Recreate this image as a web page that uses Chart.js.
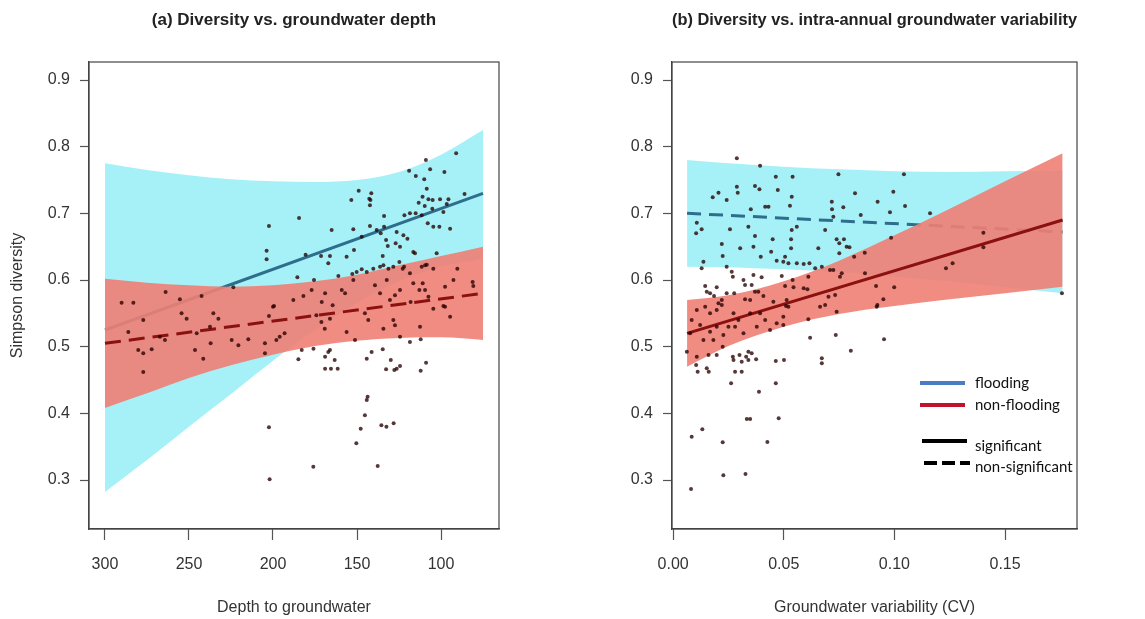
<!DOCTYPE html>
<html>
<head>
  <title>Diversity vs groundwater</title>
  <script src="https://cdn.jsdelivr.net/npm/chart.js"></script>
  <style>
    body { margin: 0; background: #fff; }
    #wrap { position: relative; width: 1145px; height: 619px; }
    canvas { position: absolute; top: 0; }
    #chartA { left: 0; }
    #chartB { left: 572px; }
  </style>
</head>
<body>
<div id="wrap">
  <canvas id="chartA" width="572" height="619"></canvas>
  <canvas id="chartB" width="573" height="619"></canvas>
</div>

<script>
// ---- panel (a): depth to groundwater ----
const xTicksA = [300, 250, 200, 150, 100];
const yTicks = [0.3, 0.4, 0.5, 0.6, 0.7, 0.8, 0.9];

const bandXA  = [300, 275, 250, 225, 200, 175, 150, 125, 100, 75];
const cyanUpA = [0.775, 0.765, 0.757, 0.751, 0.748, 0.747, 0.750, 0.762, 0.788, 0.825];
const cyanLoA = [0.282, 0.330, 0.380, 0.429, 0.479, 0.525, 0.566, 0.598, 0.620, 0.631];
const redUpA  = [0.602, 0.596, 0.592, 0.590, 0.592, 0.598, 0.608, 0.622, 0.636, 0.650];
const redLoA  = [0.408, 0.430, 0.453, 0.472, 0.488, 0.501, 0.509, 0.513, 0.514, 0.510];

const fitXA = [300, 75];
const blueFitA = [0.525, 0.730];
const redFitA = [0.505, 0.580];

// [depth, simpson diversity]
const pointsA = [
  [91,0.79],[109,0.78],[106.5,0.766],[98,0.762],[119,0.764],[115,0.756],[149,0.734],[141.5,0.73],
  [142.7,0.722],[142,0.72],[142.3,0.712],[153.4,0.72],[110,0.751],[108.5,0.737],[86,0.729],[111,0.725],
  [107.5,0.721],[105,0.72],[100.6,0.721],[95.6,0.721],[113.3,0.716],[109.7,0.711],[105.2,0.707],[96.6,0.714],
  [118.5,0.70],[121.8,0.697],[115.1,0.70],[111.5,0.697],[107.9,0.685],[104.6,0.68],[101,0.68],[98.6,0.702],
  [94.6,0.677],[133.9,0.696],[133.9,0.68],[138.3,0.675],[135.9,0.67],[132.7,0.66],[131.7,0.651],[126.4,0.672],
  [122.4,0.667],[120,0.662],[124.4,0.65],[127,0.655],[142.3,0.681],[152.2,0.676],[165.1,0.675],[151.8,0.645],
  [147.2,0.665],[202.4,0.681],[184.5,0.693],[203.8,0.644],[203.8,0.631],[180.6,0.638],[171.4,0.636],[166.1,0.636],
  [167.1,0.625],[156.2,0.635],[134.7,0.636],[134.3,0.622],[116.5,0.642],[115.5,0.64],[109.5,0.622],[102.6,0.64],
  [124.8,0.627],[122,0.62],[185.5,0.604],[175.6,0.60],[161.1,0.606],[152.8,0.609],[150.2,0.612],[147.2,0.616],
  [144.2,0.612],[140.3,0.617],[136.3,0.62],[131.3,0.617],[128.4,0.62],[122.8,0.617],[118.5,0.61],[111.5,0.62],
  [108.5,0.623],
  [290.1,0.566],[283.1,0.566],[263.9,0.582],[255.4,0.571],[242.5,0.576],[223.6,0.589],[199.4,0.561],[187.9,0.57],
  [181.9,0.576],[177,0.585],[171,0.567],[169,0.58],[164.5,0.562],[159.1,0.585],[157.1,0.58],[152.2,0.60],
  [139.3,0.592],[136.3,0.58],[132.3,0.60],[130.4,0.57],[127.4,0.577],[124.4,0.585],[116.5,0.595],[110.9,0.595],
  [109.5,0.585],[104.6,0.617],[107.5,0.575],[97.6,0.59],[92.6,0.60],[90.3,0.617],[81.2,0.597],[80.8,0.591],
  [98.6,0.561],[118.1,0.567],[112.9,0.585],
  [277.2,0.54],[286.1,0.522],[280.2,0.495],[277.2,0.49],[277.2,0.462],[272.2,0.496],[267.3,0.515],[264.3,0.51],
  [254.4,0.55],[251.4,0.542],[246.4,0.495],[241.5,0.482],[245.4,0.52],[237.5,0.53],[235.5,0.55],[232.5,0.542],
  [237.1,0.505],[224.6,0.51],[220.6,0.502],[214.7,0.511],[204.8,0.505],[204.8,0.49],[202.4,0.546],[200,0.56],
  [198,0.51],[193.1,0.52],[196,0.515],[174.2,0.547],[171.2,0.537],[169.2,0.527],[166.1,0.542],[156.2,0.522],
  [145.3,0.55],[143.3,0.54],[134.3,0.527],[128.4,0.54],[127.4,0.532],[124.4,0.515],[118.5,0.507],[112.5,0.53],
  [112.1,0.511],[104.6,0.557],[97.6,0.56],[94.6,0.545],[151.2,0.51],
  [184.9,0.481],[182.9,0.495],[175.9,0.497],[169,0.485],[167.1,0.492],[166.1,0.495],[169,0.467],[165.5,0.467],
  [163.3,0.48],[161.5,0.467],[144.2,0.482],[141.3,0.492],[134.7,0.496],[132.7,0.466],[129.9,0.48],[127.8,0.465],
  [126.4,0.467],[124.4,0.471],[112.1,0.464],[108.9,0.476],[144.2,0.42],[143.7,0.425],[145.3,0.397],[147.8,0.377],
  [135.5,0.382],[132.5,0.38],[128.2,0.385],[150.4,0.355],[202.4,0.379],[202,0.301],[176,0.32],[137.7,0.321]
];

// ---- panel (b): groundwater variability ----
const xTicksB = [0.00, 0.05, 0.10, 0.15];

const bandXB  = [0.0063, 0.025, 0.05, 0.075, 0.1, 0.125, 0.15, 0.176];
const cyanUpB = [0.780, 0.775, 0.770, 0.766, 0.763, 0.762, 0.763, 0.764];
const cyanLoB = [0.620, 0.619, 0.616, 0.612, 0.605, 0.598, 0.589, 0.580];
const redUpB  = [0.570, 0.577, 0.598, 0.629, 0.667, 0.707, 0.748, 0.790];
const redLoB  = [0.470, 0.501, 0.530, 0.549, 0.561, 0.571, 0.580, 0.590];

const fitXB = [0.0063, 0.176];
const blueFitB = [0.700, 0.672];
const redFitB = [0.520, 0.690];

// [CV, simpson diversity]
const pointsB = [
  [0.0288,0.7825],[0.0393,0.7715],[0.0464,0.755],[0.0540,0.755],[0.0747,0.7585],[0.1043,0.7585],[0.0370,0.741],[0.0390,0.736],
  [0.0288,0.74],[0.0292,0.731],[0.0205,0.731],[0.0179,0.724],[0.0242,0.72],[0.0473,0.735],[0.0536,0.725],[0.0416,0.71],
  [0.0431,0.71],[0.0351,0.706],[0.0528,0.7115],[0.0717,0.7175],[0.0718,0.706],[0.0769,0.709],[0.0822,0.73],[0.0924,0.7175],
  [0.0995,0.7325],[0.0980,0.7015],[0.1048,0.711],[0.0848,0.6975],[0.1161,0.70],[0.0107,0.686],[0.0104,0.67],[0.0129,0.676],
  [0.0257,0.676],[0.0340,0.68],[0.0536,0.675],[0.0559,0.68],[0.0724,0.695],[0.0687,0.675],[0.0303,0.6475],[0.0363,0.65],
  [0.0370,0.666],[0.0450,0.661],[0.0533,0.661],[0.0656,0.6475],[0.0739,0.661],[0.0751,0.655],[0.0772,0.661],[0.0784,0.65],
  [0.0533,0.6475],[0.0443,0.6425],[0.0396,0.635],[0.0220,0.654],[0.0224,0.636],[0.0242,0.62],[0.0265,0.6125],[0.0270,0.605],
  [0.0137,0.6275],[0.0129,0.6175],[0.0506,0.635],[0.0521,0.625],[0.0498,0.6275],[0.0468,0.629],[0.0559,0.625],[0.0590,0.624],
  [0.0616,0.625],[0.0751,0.64],[0.0797,0.649],[0.0818,0.635],[0.0866,0.641],[0.0985,0.6635],[0.1402,0.671],[0.1402,0.649],
  [0.1233,0.6175],[0.1263,0.625],[0.1757,0.58],
  [0.0145,0.591],[0.0152,0.5825],[0.0167,0.58],[0.0185,0.576],[0.0197,0.589],[0.0220,0.57],[0.0205,0.565],[0.0242,0.58],
  [0.0276,0.58],[0.0318,0.60],[0.0325,0.5925],[0.0355,0.5925],[0.0370,0.5825],[0.0325,0.571],[0.0348,0.57],[0.0385,0.5825],
  [0.0408,0.576],[0.0363,0.6075],[0.0400,0.604],[0.0491,0.606],[0.0506,0.591],[0.0540,0.60],[0.0544,0.589],[0.0590,0.5875],
  [0.0607,0.586],[0.0611,0.605],[0.0642,0.6175],[0.0672,0.62],[0.0709,0.615],[0.0724,0.615],[0.0754,0.605],[0.0762,0.61],
  [0.0867,0.61],[0.0917,0.591],[0.0999,0.589],[0.0950,0.571],[0.0923,0.5625],[0.0702,0.575],[0.0732,0.5775],[0.0687,0.5625],
  [0.0510,0.561],[0.0453,0.5675],[0.0513,0.57],
  [0.0062,0.4925],[0.0077,0.52],[0.0084,0.54],[0.0107,0.555],[0.0145,0.56],[0.0167,0.55],[0.0197,0.555],[0.0220,0.5625],
  [0.0122,0.5325],[0.0137,0.51],[0.0167,0.5225],[0.0182,0.51],[0.0197,0.53],[0.0227,0.5175],[0.0250,0.53],[0.0273,0.55],
  [0.0280,0.53],[0.0295,0.54],[0.0318,0.52],[0.0348,0.55],[0.0378,0.53],[0.0393,0.55],[0.0416,0.54],[0.0438,0.525],
  [0.0468,0.535],[0.0498,0.545],[0.0498,0.5325],[0.0521,0.56],[0.0611,0.541],[0.0664,0.56],[0.0739,0.5525],[0.0920,0.56],
  [0.0107,0.485],[0.0160,0.4875],[0.0197,0.4875],[0.0224,0.50],[0.0104,0.4725],[0.0111,0.4625],[0.0152,0.4675],[0.0161,0.4625],
  [0.0270,0.485],[0.0273,0.48],[0.0300,0.4875],[0.0310,0.4775],[0.0330,0.485],[0.0340,0.4925],[0.0355,0.49],[0.0375,0.481],
  [0.0340,0.48],[0.0280,0.4625],[0.0310,0.4625],[0.0262,0.445],[0.0388,0.4325],[0.0464,0.445],[0.0464,0.4785],[0.0501,0.48],
  [0.0619,0.5135],[0.0672,0.4825],[0.0672,0.475],[0.0735,0.5175],[0.0803,0.494],[0.0953,0.511],[0.0084,0.365],[0.0132,0.376],
  [0.0224,0.3565],[0.0333,0.3915],[0.0348,0.3915],[0.0477,0.3925],[0.0426,0.357],[0.0227,0.307],[0.0327,0.309],[0.0081,0.2865]
];

const legendLabels = ['flooding', 'non-flooding', 'significant', 'non-significant'];

// ---- colours ----
const cyanFill = 'rgba(30, 220, 235, 0.4)';
const redFill = 'rgba(240, 128, 116, 0.9)';
const blueLine = '#2e6e8c';
const redLine = '#8b1111';
const dotColor = 'rgba(40, 0, 0, 0.78)';

Chart.defaults.font.family = "'Liberation Sans', Arial, sans-serif";
Chart.defaults.color = '#333';

function xy(xs, ys) { return xs.map((x, i) => ({x: x, y: ys[i]})); }

function band(xs, up, lo, color, order) {
  return [
    {type: 'line', data: xy(xs, up), fill: '+1', backgroundColor: color, borderColor: 'transparent',
     borderWidth: 0, pointRadius: 0, cubicInterpolationMode: 'monotone', order: order},
    {type: 'line', data: xy(xs, lo), fill: false, borderColor: 'transparent',
     borderWidth: 0, pointRadius: 0, cubicInterpolationMode: 'monotone', order: order}
  ];
}

function fitLine(xs, ys, color, dash, order) {
  return {type: 'line', data: xy(xs, ys), borderColor: color, borderWidth: 3, borderDash: dash,
          pointRadius: 0, fill: false, order: order};
}

function dots(pts) {
  return {type: 'scatter', data: pts.map(p => ({x: p[0], y: p[1]})), pointRadius: 2,
          pointBackgroundColor: dotColor, pointBorderWidth: 0, order: 0};
}

// box around plot region
const frame = {
  id: 'frame',
  afterDraw(chart) {
    const {ctx, chartArea: a} = chart;
    ctx.save();
    ctx.strokeStyle = '#444';
    ctx.lineWidth = 1.2;
    ctx.strokeRect(a.left, a.top, a.right - a.left, a.bottom - a.top);
    ctx.restore();
  }
};

// legend drawn inside panel (b)
const legendB = {
  id: 'legendB',
  afterDraw(chart) {
    const ctx = chart.ctx;
    const items = [
      {color: '#4a7ec4', dash: [], x0: 348, x1: 393, y: 383, ty: 383},
      {color: '#c0142c', dash: [], x0: 348, x1: 393, y: 405, ty: 405},
      {color: '#000', dash: [], x0: 350, x1: 395, y: 441, ty: 446},
      {color: '#000', dash: [13, 5], x0: 352, x1: 398, y: 463, ty: 467}
    ];
    ctx.save();
    items.forEach((it, i) => {
      ctx.beginPath();
      ctx.setLineDash(it.dash);
      ctx.strokeStyle = it.color;
      ctx.lineWidth = 4;
      ctx.moveTo(it.x0, it.y);
      ctx.lineTo(it.x1, it.y);
      ctx.stroke();
      ctx.setLineDash([]);
      ctx.fillStyle = '#111';
      ctx.font = '15px Lato';
      ctx.textBaseline = 'middle';
      ctx.fillText(legendLabels[i], 403, it.ty);
    });
    ctx.restore();
  }
};

function makeOptions(o) {
  return {
    responsive: false,
    animation: false,
    layout: {padding: {left: 0, right: o.padRight, top: 0, bottom: 0}},
    plugins: {
      legend: {display: false},
      tooltip: {enabled: false},
      title: {display: true, text: o.title, fullSize: false, color: '#222',
              font: {size: 17, weight: 'bold'}, padding: {top: 10, bottom: 31.6}}
    },
    scales: {
      x: {
        type: 'linear', reverse: o.reverse, min: o.xMin, max: o.xMax,
        afterBuildTicks: s => { s.ticks = o.xTicks.map(v => ({value: v})); },
        afterFit: s => { s.height = 90; },
        grid: {drawOnChartArea: false, tickLength: 11, color: '#555', tickWidth: 1.2},
        border: {display: true, color: '#444', width: 1.2},
        ticks: {padding: 15, font: {size: 16}, color: '#333', maxRotation: 0, autoSkip: false,
                callback: v => Number(v).toFixed(o.xDec)},
        title: {display: true, text: o.xTitle, font: {size: 16}, color: '#333', padding: {bottom: 2}}
      },
      y: {
        type: 'linear', min: 0.2265, max: 0.927,
        afterBuildTicks: s => { s.ticks = yTicks.map(v => ({value: v})); },
        afterFit: s => { s.width = o.yWidth; },
        grid: {drawOnChartArea: false, tickLength: 9, color: '#555', tickWidth: 1.2},
        border: {display: true, color: '#444', width: 1.2},
        ticks: {padding: 10, font: {size: 16}, color: '#333', callback: v => Number(v).toFixed(1)},
        title: {display: o.yTitle !== '', text: o.yTitle, font: {size: 16}, color: '#333', padding: {top: 8}}
      }
    }
  };
}

new Chart(document.getElementById('chartA'), {
  type: 'scatter',
  data: {
    datasets: [
      dots(pointsA),
      fitLine(fitXA, redFitA, redLine, [16, 8], 1),
      ...band(bandXA, redUpA, redLoA, redFill, 2),
      fitLine(fitXA, blueFitA, blueLine, [], 3),
      ...band(bandXA, cyanUpA, cyanLoA, cyanFill, 4)
    ]
  },
  options: makeOptions({
    title: '(a) Diversity vs. groundwater depth', padRight: 73, reverse: true,
    xMin: 65.5, xMax: 309.5, xTicks: xTicksA, xDec: 0, xTitle: 'Depth to groundwater',
    yWidth: 89, yTitle: 'Simpson diversity'
  }),
  plugins: [frame]
});

new Chart(document.getElementById('chartB'), {
  type: 'scatter',
  data: {
    datasets: [
      dots(pointsB),
      fitLine(fitXB, redFitB, redLine, [], 1),
      ...band(bandXB, redUpB, redLoB, redFill, 2),
      fitLine(fitXB, blueFitB, blueLine, [14, 8], 3),
      ...band(bandXB, cyanUpB, cyanLoB, cyanFill, 4)
    ]
  },
  options: makeOptions({
    title: '(b) Diversity vs. intra-annual groundwater variability', padRight: 68, reverse: false,
    xMin: -0.0005, xMax: 0.1825, xTicks: xTicksB, xDec: 2, xTitle: 'Groundwater variability (CV)',
    yWidth: 100, yTitle: ''
  }),
  plugins: [frame, legendB]
});
</script>
</body>
</html>
